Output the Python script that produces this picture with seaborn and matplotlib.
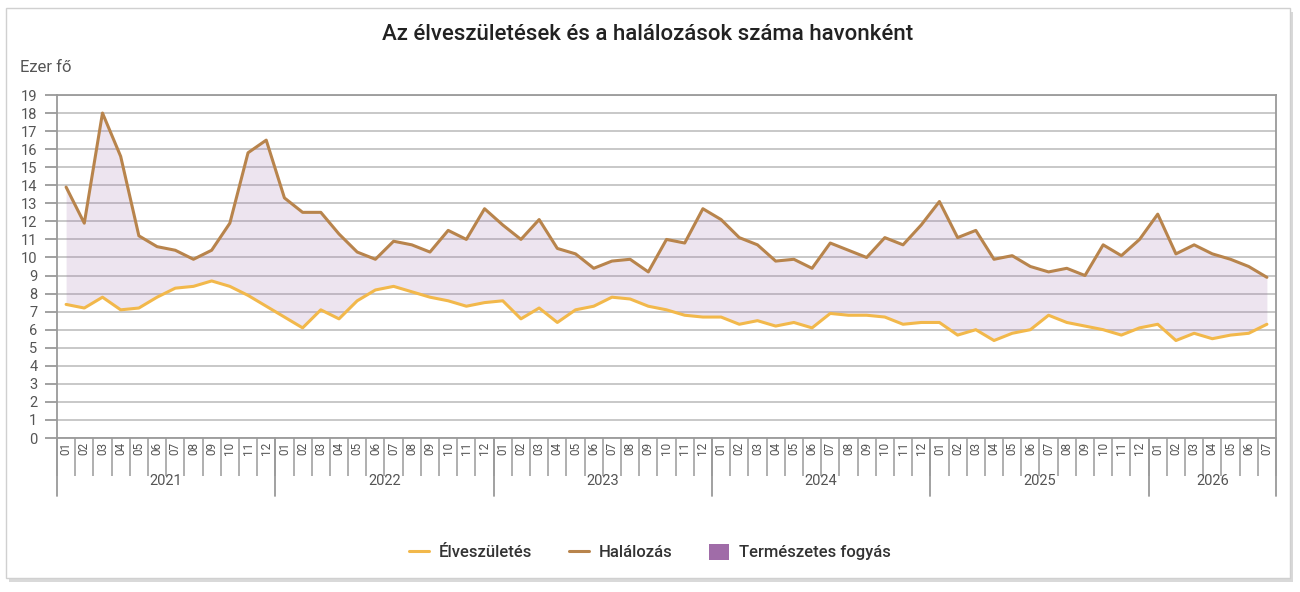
import matplotlib
matplotlib.use("Agg")
import matplotlib.pyplot as plt
import matplotlib.patches as mpatches
from matplotlib.lines import Line2D
import seaborn as sns
import numpy as np
import pandas as pd

# Adatok (ezer fő), 2021-01 ... 2026-07
years = [2021, 2022, 2023, 2024, 2025, 2026]
months_per_year = [12, 12, 12, 12, 12, 7]

elveszuletes = [
    7.4, 7.2, 7.8, 7.1, 7.2, 7.8, 8.3, 8.4, 8.7, 8.4, 7.9, 7.3,
    6.7, 6.1, 7.1, 6.6, 7.6, 8.2, 8.4, 8.1, 7.8, 7.6, 7.3, 7.5,
    7.6, 6.6, 7.2, 6.4, 7.1, 7.3, 7.8, 7.7, 7.3, 7.1, 6.8, 6.7,
    6.7, 6.3, 6.5, 6.2, 6.4, 6.1, 6.9, 6.8, 6.8, 6.7, 6.3, 6.4,
    6.4, 5.7, 6.0, 5.4, 5.8, 6.0, 6.8, 6.4, 6.2, 6.0, 5.7, 6.1,
    6.3, 5.4, 5.8, 5.5, 5.7, 5.8, 6.3,
]
halalozas = [
    13.9, 11.9, 18.0, 15.6, 11.2, 10.6, 10.4, 9.9, 10.4, 11.9, 15.8, 16.5,
    13.3, 12.5, 12.5, 11.3, 10.3, 9.9, 10.9, 10.7, 10.3, 11.5, 11.0, 12.7,
    11.8, 11.0, 12.1, 10.5, 10.2, 9.4, 9.8, 9.9, 9.2, 11.0, 10.8, 12.7,
    12.1, 11.1, 10.7, 9.8, 9.9, 9.4, 10.8, 10.4, 10.0, 11.1, 10.7, 11.8,
    13.1, 11.1, 11.5, 9.9, 10.1, 9.5, 9.2, 9.4, 9.0, 10.7, 10.1, 11.0,
    12.4, 10.2, 10.7, 10.2, 9.9, 9.5, 8.9,
]

month_labels = [f"{m:02d}" for n in months_per_year for m in range(1, n + 1)]
df = pd.DataFrame({
    "idx": np.arange(len(month_labels)),
    "honap": month_labels,
    "Élveszületés": elveszuletes,
    "Halálozás": halalozas,
})

c_birth = "#f2b84b"
c_death = "#b8844c"
c_fill = "#a06ca8"
c_text = "#555555"
c_axis = "#9a9a9a"

sns.set_theme(style="white")
plt.rcParams["font.family"] = ["Roboto", "DejaVu Sans"]

fig = plt.figure(figsize=(13, 5.92), dpi=100)

# kártya háttér árnyékkal
shadow = mpatches.Rectangle((9 / 1300, (592 - 582) / 592), 1284 / 1300, 570 / 592,
                            transform=fig.transFigure, facecolor="#d9d9d9",
                            edgecolor="none", zorder=-3)
card = mpatches.Rectangle((6 / 1300, (592 - 578) / 592), 1284 / 1300, 570 / 592,
                          transform=fig.transFigure, facecolor="white",
                          edgecolor="#d0d0d0", linewidth=1, zorder=-2)
fig.patches.extend([shadow, card])

ax = fig.add_axes([57 / 1300, (592 - 438) / 592, 1219 / 1300, 343 / 592])
ax.set_facecolor("none")

ax.fill_between(df["idx"], df["Élveszületés"], df["Halálozás"],
                color=c_fill, alpha=0.18, linewidth=0, zorder=2)
sns.lineplot(data=df, x="idx", y="Élveszületés", color=c_birth, linewidth=2.2, ax=ax, zorder=3)
sns.lineplot(data=df, x="idx", y="Halálozás", color=c_death, linewidth=2.2, ax=ax, zorder=3)

ax.set_xlim(-0.5, len(df) - 0.5)
ax.set_ylim(0, 19)
ax.set_yticks(range(0, 20))
ax.yaxis.grid(True, color="#c4c4c4", linewidth=1.3, zorder=1)
ax.set_axisbelow(True)
ax.set_xlabel("")
ax.set_ylabel("")

for s in ax.spines.values():
    s.set_color(c_axis)
    s.set_linewidth(1.3)

ax.tick_params(axis="y", length=9, width=1.3, color=c_axis, labelsize=10.5,
               labelcolor=c_text, pad=5, left=True)

# hónap címkék és elválasztók
ax.set_xticks(df["idx"])
ax.set_xticklabels(df["honap"], rotation=90, fontsize=8.5, color=c_text)
ax.tick_params(axis="x", which="major", length=0, pad=3, bottom=True)
ax.set_xticks(np.arange(len(df) + 1) - 0.5, minor=True)
ax.tick_params(axis="x", which="minor", length=27, width=1.1, color=c_axis, bottom=True)

# év csoportok
start = 0
for y, n in zip(years + [None], months_per_year + [0]):
    ax.plot([start - 0.5, start - 0.5], [0, -0.17], transform=ax.get_xaxis_transform(),
            color=c_axis, linewidth=1.3, clip_on=False)
    if y is not None:
        ax.text(start + (n - 1) / 2, -0.125, str(y), transform=ax.get_xaxis_transform(),
                ha="center", va="center", fontsize=10.5, color=c_text)
    start += n

fig.text(648 / 1300, (592 - 34) / 592, "Az élveszületések és a halálozások száma havonként",
         ha="center", va="center", fontsize=16, fontweight="medium", color="#222222")
fig.text(20 / 1300, (592 - 68) / 592, "Ezer fő", ha="left", va="center",
         fontsize=12, color=c_text)

handles = [
    Line2D([0], [0], color=c_birth, linewidth=2.2),
    Line2D([0], [0], color=c_death, linewidth=2.2),
    mpatches.Patch(facecolor=c_fill, edgecolor="none"),
]
leg = fig.legend(handles, ["Élveszületés", "Halálozás", "Természetes fogyás"],
                 loc="center", bbox_to_anchor=(650 / 1300, (592 - 552) / 592), ncol=3,
                 frameon=False, fontsize=12, handlelength=1.2, handleheight=1.1,
                 columnspacing=2.2, handletextpad=0.6, labelcolor="#333333")
for t in leg.get_texts():
    t.set_fontweight("medium")

fig.savefig("out.png", dpi=100)
